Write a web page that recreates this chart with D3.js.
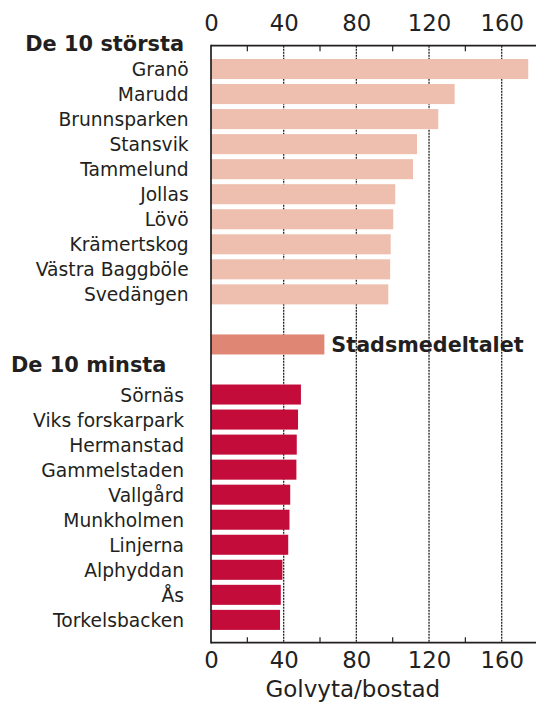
<!DOCTYPE html>
<html>
<head>
<meta charset="utf-8">
<script src="https://cdn.jsdelivr.net/npm/d3@7"></script>
<style>
  html, body { margin: 0; padding: 0; background: #fff; }
  svg { display: block; font-family: "DejaVu Sans", Verdana, sans-serif; }
</style>
</head>
<body>
<div id="chart"></div>
<script>
// ---- data ----
const largestHeader = "De 10 största";
const smallestHeader = "De 10 minsta";
const largestNames = ["Granö", "Marudd", "Brunnsparken", "Stansvik", "Tammelund", "Jollas", "Lövö", "Krämertskog", "Västra Baggböle", "Svedängen"];
const largestValues = [174.6, 134.1, 125.1, 113.4, 111.2, 101.4, 100.3, 98.9, 98.6, 97.6];
const averageName = "Stadsmedeltalet";
const averageValue = 62.4;
const smallestNames = ["Sörnäs", "Viks forskarpark", "Hermanstad", "Gammelstaden", "Vallgård", "Munkholmen", "Linjerna", "Alphyddan", "Ås", "Torkelsbacken"];
const smallestValues = [49.5, 47.9, 47.2, 47.0, 43.6, 43.2, 42.5, 39.3, 38.4, 38.0];
const majorTicks = [0, 40, 80, 120, 160];
const minorTicks = [20, 60, 100, 140];
const axisTitle = "Golvyta/bostad";

// ---- layout ----
const W = 536, H = 703;
const axisTop = 45.7, axisBottom = 642.7;
const x0 = 211, x160 = 501.7;
const colLarge = "#EEBEAE", colAvg = "#DF8674", colSmall = "#C30C39";
const ink = "#231f20";

const svg = d3.select("#chart").append("svg").attr("width", W).attr("height", H);

const x = d3.scaleLinear().domain([0, 160]).range([x0, x160]);

const slotKeys = [
  ...largestNames.map(d => "L:" + d),
  "gap1",
  "A:" + averageName,
  "gap2",
  ...smallestNames.map(d => "S:" + d)
];
const y = d3.scaleBand().domain(slotKeys).range([56.5, 632.4]).paddingInner(0.2).paddingOuter(0.1);

const rows = [
  ...largestNames.map((n, i) => ({ key: "L:" + n, name: n, value: largestValues[i], color: colLarge, group: "L" })),
  { key: "A:" + averageName, name: averageName, value: averageValue, color: colAvg, group: "A" },
  ...smallestNames.map((n, i) => ({ key: "S:" + n, name: n, value: smallestValues[i], color: colSmall, group: "S" }))
];

// grid lines (dotted)
svg.append("g").selectAll("line").data(majorTicks.filter(d => d > 0)).join("line")
  .attr("x1", d => x(d)).attr("x2", d => x(d))
  .attr("y1", axisTop).attr("y2", axisBottom)
  .attr("stroke", "#222").attr("stroke-width", 1.3).attr("stroke-dasharray", "2,1");

// bars
svg.append("g").selectAll("rect").data(rows).join("rect")
  .attr("x", x(0))
  .attr("y", d => y(d.key))
  .attr("width", d => x(d.value) - x(0))
  .attr("height", y.bandwidth())
  .attr("fill", d => d.color);

// frame lines
const frame = svg.append("g").attr("stroke", ink).attr("stroke-width", 1.7);
frame.append("line").attr("x1", x0).attr("x2", W).attr("y1", axisTop).attr("y2", axisTop);
frame.append("line").attr("x1", x0).attr("x2", W).attr("y1", axisBottom).attr("y2", axisBottom);
frame.append("line").attr("x1", x0).attr("x2", x0).attr("y1", axisTop - 0.85).attr("y2", axisBottom + 0.85);

// minor ticks (inward)
svg.append("g").selectAll("line").data(minorTicks).join("line")
  .attr("x1", d => x(d)).attr("x2", d => x(d))
  .attr("y1", axisTop).attr("y2", axisTop + 5.5)
  .attr("stroke", ink).attr("stroke-width", 1.2);
svg.append("g").selectAll("line").data(minorTicks).join("line")
  .attr("x1", d => x(d)).attr("x2", d => x(d))
  .attr("y1", axisBottom).attr("y2", axisBottom - 5.5)
  .attr("stroke", ink).attr("stroke-width", 1.2);

// axes (labels only)
const topAxis = svg.append("g").attr("transform", `translate(0,${axisTop})`)
  .call(d3.axisTop(x).tickValues(majorTicks).tickSize(0).tickPadding(14.7));
const botAxis = svg.append("g").attr("transform", `translate(0,${axisBottom})`)
  .call(d3.axisBottom(x).tickValues(majorTicks).tickSize(0).tickPadding(9.5));
[topAxis, botAxis].forEach(g => {
  g.select(".domain").remove();
  g.selectAll("text").attr("font-size", 22.8).attr("font-family", "DejaVu Sans, Verdana, sans-serif").attr("fill", "#222");
});

// category labels
svg.append("g").selectAll("text").data(rows.filter(d => d.group !== "A")).join("text")
  .attr("x", d => d.group === "L" ? 188.7 : 184)
  .attr("y", d => y(d.key) + y.bandwidth() / 2 + 7)
  .attr("text-anchor", "end")
  .attr("font-size", 18.7)
  .attr("fill", ink)
  .text(d => d.name);

// average label
svg.append("text")
  .attr("x", x(averageValue) + 7)
  .attr("y", y("A:" + averageName) + y.bandwidth() / 2 + 7.5)
  .attr("font-size", 20.7).attr("font-weight", "bold").attr("fill", ink)
  .text(averageName);

// headers
svg.append("text").attr("x", 184).attr("y", 50.5).attr("text-anchor", "end")
  .attr("font-size", 20.9).attr("font-weight", "bold").attr("fill", ink).text(largestHeader);
svg.append("text").attr("x", 11).attr("y", 371.7).attr("text-anchor", "start")
  .attr("font-size", 20.9).attr("font-weight", "bold").attr("fill", ink).text(smallestHeader);

// axis title
svg.append("text").attr("x", 352.8).attr("y", 697).attr("text-anchor", "middle")
  .attr("font-size", 23).attr("fill", ink).text(axisTitle);
</script>
</body>
</html>
